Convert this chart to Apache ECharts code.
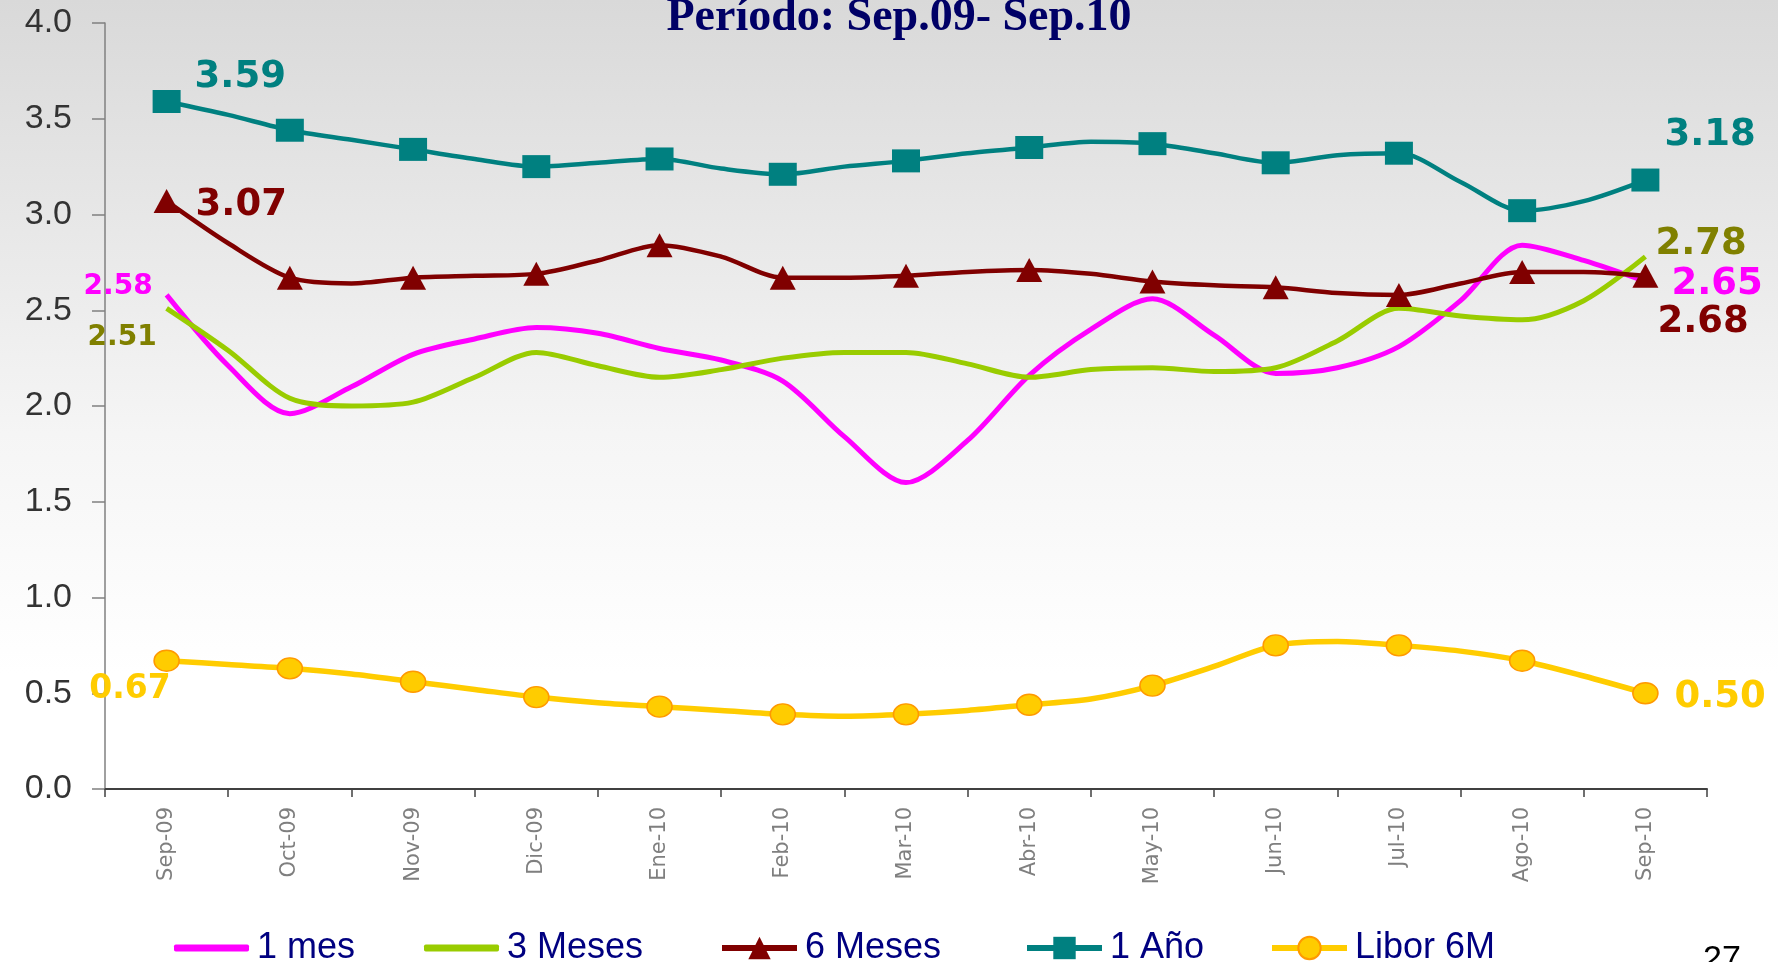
<!DOCTYPE html>
<html>
<head>
<meta charset="utf-8">
<script src="https://cdn.jsdelivr.net/npm/echarts@6/dist/echarts.min.js"></script>
<style>
html,body{margin:0;padding:0;background:#fff;}
#c{width:1778px;height:962px;}
</style>
</head>
<body>
<div id="c"></div>
<script>
// ---- data ----
const months = ['Sep-09','Oct-09','Nov-09','Dic-09','Ene-10','Feb-10','Mar-10','Abr-10','May-10','Jun-10','Jul-10','Ago-10','Sep-10'];
// values every half month (even index = month mark, odd = mid-month)
const unMes   = [2.58, 2.21, 1.96, 2.10, 2.27, 2.35, 2.41, 2.38, 2.30, 2.24, 2.13, 1.84, 1.60, 1.82, 2.16, 2.40, 2.56, 2.37, 2.17, 2.20, 2.31, 2.55, 2.84, 2.76, 2.65];
const tresMeses = [2.51, 2.29, 2.04, 2.00, 2.02, 2.15, 2.28, 2.21, 2.15, 2.19, 2.25, 2.28, 2.28, 2.22, 2.15, 2.19, 2.20, 2.18, 2.20, 2.34, 2.51, 2.47, 2.45, 2.55, 2.78];
const seisMeses = [3.07, 2.85, 2.67, 2.64, 2.67, 2.68, 2.69, 2.76, 2.84, 2.78, 2.67, 2.67, 2.68, 2.70, 2.71, 2.69, 2.65, 2.63, 2.62, 2.59, 2.58, 2.64, 2.70, 2.70, 2.68];
const unAnio  = [3.59, 3.52, 3.44, 3.39, 3.34, 3.29, 3.25, 3.27, 3.29, 3.24, 3.21, 3.25, 3.28, 3.32, 3.35, 3.38, 3.37, 3.32, 3.27, 3.31, 3.32, 3.17, 3.02, 3.07, 3.18];
const libor6M = [0.67, 0.65, 0.63, 0.60, 0.56, 0.52, 0.48, 0.45, 0.43, 0.41, 0.39, 0.38, 0.39, 0.41, 0.44, 0.47, 0.54, 0.64, 0.75, 0.77, 0.75, 0.72, 0.67, 0.59, 0.50];
const seriesNames = ['1 mes', '3 Meses', '6 Meses', '1 Año', 'Libor 6M'];
const yMin = 0, yMax = 4, yStep = 0.5;
const titleText = 'Período: Sep.09- Sep.10';
const pageNumber = '27';

// ---- styles ----
const colors = {'1 mes':'#ff00ff','3 Meses':'#99cc00','6 Meses':'#800000','1 Año':'#008080','Libor 6M':'#ffcc00'};
const labelColors = {'1 mes':'#ff00ff','3 Meses':'#808000','6 Meses':'#800000','1 Año':'#008080','Libor 6M':'#ffcc00'};
const legendLefts = [169, 419, 714, 1019, 1264];
const legendPlainLine = {'1 mes': true, '3 Meses': true};
// end-point value labels: series, point index, offsets from the point, alignment, font size
const endLabels = [
  {s:'1 mes',    i:0,  dx:-14, dy:-8,  align:'right', size:28},
  {s:'3 Meses',  i:0,  dx:-10, dy:29,  align:'right', size:28},
  {s:'6 Meses',  i:0,  dx:29,  dy:4,   align:'left',  size:37},
  {s:'1 Año',    i:0,  dx:28,  dy:-24, align:'left',  size:37},
  {s:'Libor 6M', i:0,  dx:4,   dy:29,  align:'right', size:33},
  {s:'1 Año',    i:24, dx:19,  dy:-45, align:'left',  size:37},
  {s:'3 Meses',  i:24, dx:10,  dy:-12, align:'left',  size:37},
  {s:'1 mes',    i:24, dx:26,  dy:3,   align:'left',  size:37},
  {s:'6 Meses',  i:24, dx:12,  dy:47,  align:'left',  size:37},
  {s:'Libor 6M', i:24, dx:29,  dy:4,   align:'left',  size:37}
];

const valuesByName = {'1 mes':unMes,'3 Meses':tresMeses,'6 Meses':seisMeses,'1 Año':unAnio,'Libor 6M':libor6M};

function pts(vals, marked) {
  return vals.map((v, i) => {
    const item = {value: [i / 2, v]};
    if (!marked || i % 2 === 1) item.symbol = 'none';
    return item;
  });
}

const chart = echarts.init(document.getElementById('c'));

function lineSeries(name, extra) {
  return Object.assign({
    name: name,
    type: 'line',
    xAxisIndex: 1,
    yAxisIndex: 0,
    smooth: 0.3,
    showAllSymbol: true,
    emphasis: {disabled: true},
    lineStyle: {color: colors[name], width: 5},
    itemStyle: {color: colors[name]},
    z: 3
  }, extra);
}

const series = [
  lineSeries('1 mes',   {symbol:'none', showSymbol:false, data: pts(unMes, false)}),
  lineSeries('3 Meses', {symbol:'none', showSymbol:false, data: pts(tresMeses, false)}),
  lineSeries('6 Meses', {symbol:'triangle', symbolSize:[26,24], data: pts(seisMeses, true), lineStyle:{color:colors['6 Meses'], width:4.5}}),
  lineSeries('1 Año',   {symbol:'rect', symbolSize:[28,23], data: pts(unAnio, true), lineStyle:{color:colors['1 Año'], width:4.5}}),
  lineSeries('Libor 6M',{symbol:'circle', symbolSize:[25,21], data: pts(libor6M, true),
     lineStyle:{color:colors['Libor 6M'], width:5.5},
     itemStyle:{color:'#ffcc00', borderColor:'#ff9900', borderWidth:1.5}})
];

const legends = seriesNames.map((n, i) => {
  const plain = legendPlainLine[n];
  return {
    data: [plain ? {name: n, icon: 'roundRect'} : n],
    left: legendLefts[i],
    top: 925,
    itemWidth: 75,
    itemHeight: plain ? 7 : 28,
    selectedMode: false,
    lineStyle: {width: 6},
    textStyle: {fontSize: 36, fontFamily: 'Liberation Sans, Arial, sans-serif', color: '#000080', padding: [0,0,0,3]}
  };
});

const option = {
  animation: false,
  backgroundColor: {type:'linear', x:0, y:0, x2:0, y2:1, colorStops:[
    {offset:0, color:'#d9d9d9'}, {offset:0.45, color:'#f5f5f5'}, {offset:0.7, color:'#ffffff'}, {offset:1, color:'#ffffff'}]},
  grid: {left: 105, right: 71, top: 23, bottom: 173, containLabel: false},
  legend: legends,
  xAxis: [
    {
      type: 'category',
      data: months,
      boundaryGap: true,
      axisLine: {onZero: false, lineStyle: {color: '#404040', width: 2}},
      axisTick: {show: true, length: 8, lineStyle: {color: '#404040', width: 1.5}},
      axisLabel: {rotate: 90, interval: 0, fontSize: 21, fontFamily: 'DejaVu Sans, sans-serif', color: '#7f7f7f', margin: 18},
      splitLine: {show: false}
    },
    {type: 'value', min: -0.5, max: 12.5, show: false}
  ],
  yAxis: {
    type: 'value',
    min: yMin, max: yMax, interval: yStep,
    axisLine: {show: true, onZero: false, lineStyle: {color: '#808080', width: 1.5}},
    axisTick: {show: true, length: 13, lineStyle: {color: '#808080', width: 1.5}},
    splitLine: {show: false},
    axisLabel: {formatter: v => v.toFixed(1), fontSize: 34, fontFamily: 'Liberation Sans, Arial, sans-serif', color: '#333333', margin: 33}
  },
  series: series
};

chart.setOption(option);

// value labels placed through the chart's own scales
const graphics = endLabels.map(l => {
  const v = valuesByName[l.s][l.i];
  const p = chart.convertToPixel({xAxisIndex: 1, yAxisIndex: 0}, [l.i / 2, v]);
  return {
    type: 'text', z: 100,
    x: p[0] + l.dx, y: p[1] + l.dy,
    style: {
      text: v.toFixed(2), fill: labelColors[l.s],
      font: 'bold ' + l.size + 'px "DejaVu Sans", sans-serif',
      align: l.align, verticalAlign: 'middle'
    }
  };
});
graphics.push({
  type: 'text', z: 100, x: 899, y: 18,
  style: {text: titleText, fill: '#000066', font: 'bold 46px "Liberation Serif", "Times New Roman", serif', align: 'center', verticalAlign: 'middle'}
});
graphics.push({
  type: 'text', z: 100, x: 1703, y: 943,
  style: {text: pageNumber, fill: '#000000', font: '34px "Liberation Sans", Arial, sans-serif', align: 'left', verticalAlign: 'top'}
});
chart.setOption({graphic: graphics});
</script>
</body>
</html>
